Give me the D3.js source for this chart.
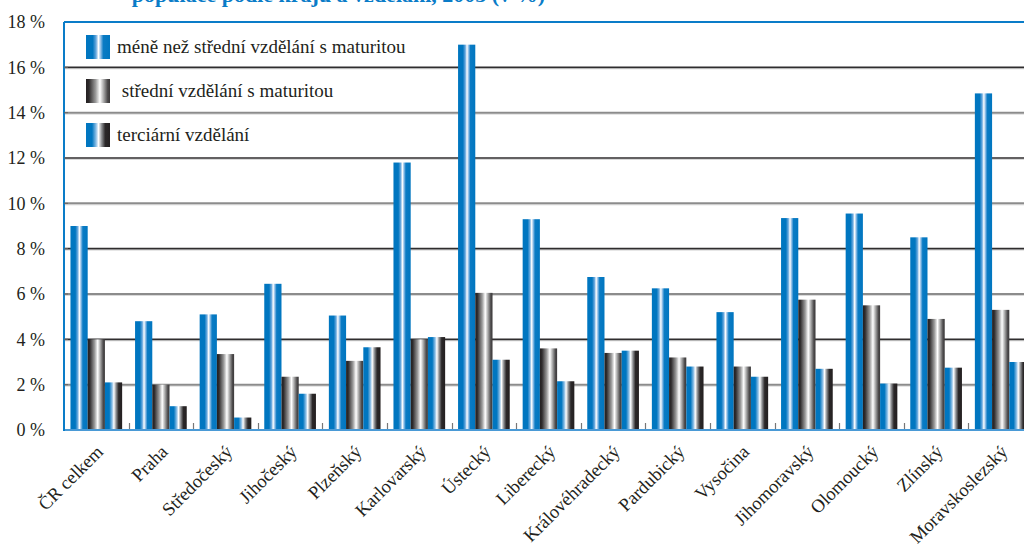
<!DOCTYPE html>
<html><head><meta charset="utf-8">
<script src="https://cdn.jsdelivr.net/npm/d3@7"></script>
<style>
html,body{margin:0;padding:0;background:#fff;}
svg{display:block;}
</style></head>
<body>
<svg id="chart" width="1024" height="546"></svg>
<script>
const categories = ["ČR celkem","Praha","Středočeský","Jihočeský","Plzeňský","Karlovarský","Ústecký","Liberecký","Královéhradecký","Pardubický","Vysočina","Jihomoravský","Olomoucký","Zlínský","Moravskoslezský"];
const seriesNames = ["méně než střední vzdělání s maturitou"," střední vzdělání s maturitou","terciární vzdělání"];
const lowerEdu = [9.0,4.8,5.1,6.45,5.05,11.8,17.0,9.3,6.75,6.25,5.2,9.35,9.55,8.5,14.85];
const secondaryEdu = [4.0,2.0,3.35,2.35,3.05,4.0,6.05,3.6,3.4,3.2,2.8,5.75,5.5,4.9,5.3];
const tertiaryEdu = [2.1,1.05,0.55,1.6,3.65,4.1,3.1,2.15,3.5,2.8,2.35,2.7,2.05,2.75,3.0];
const yTicks = [0,2,4,6,8,10,12,14,16,18];
const titleText = "populace podle krajů a vzdělání, 2005 (v %)";

(function(){
const FONT = "'Liberation Serif', 'Times New Roman', 'DejaVu Serif', serif";
const svg = d3.select("#chart").attr("font-family", FONT);
const pLeft = 64, pRight = 1033, pTop = 22, pBottom = 430;

const defs = svg.append("defs");
function grad(id, stops){
  const g = defs.append("linearGradient").attr("id", id).attr("x1","0").attr("x2","1").attr("y1","0").attr("y2","0");
  stops.forEach(s => g.append("stop").attr("offset", s[0]).attr("stop-color", s[1]));
}
grad("gBlue", [[0,"#0076c0"],[0.28,"#0076c0"],[0.42,"#6aa9de"],[0.52,"#ffffff"],[0.6,"#9cc5ea"],[0.72,"#0a7bc4"],[1,"#0076c0"]]);
grad("gGrey", [[0,"#231f20"],[0.12,"#2e2b2c"],[0.4,"#9b9b9b"],[0.58,"#ffffff"],[0.75,"#a0a0a0"],[0.9,"#4d4b4c"],[1,"#3a3839"]]);
grad("gTer",  [[0,"#0076c0"],[0.25,"#0076c0"],[0.42,"#8ebfe6"],[0.52,"#ffffff"],[0.65,"#8e9093"],[0.8,"#2b2829"],[1,"#231f20"]]);
const fills = ["url(#gBlue)","url(#gGrey)","url(#gTer)"];

const x = d3.scaleBand().domain(categories).range([pLeft, pRight]).paddingInner(0.2).paddingOuter(0.1);
const xs = d3.scaleBand().domain([0,1,2]).range([0, x.bandwidth()]);
const y = d3.scaleLinear().domain([0,18]).range([pBottom, pTop]);

// title (cut off at top in the reference)
svg.append("text").attr("x", 545).attr("y", 1.5).attr("text-anchor","end")
  .attr("font-family", FONT).attr("font-size", 22).attr("font-weight","bold")
  .attr("fill","#0a7cc8").text(titleText);

// gridlines
const grid = svg.append("g");
yTicks.filter(t => t>0 && t<18).forEach(t => {
  const dark = (t % 4 === 0);
  grid.append("line").attr("x1", pLeft).attr("x2", 1024).attr("y1", y(t)+1.5).attr("y2", y(t)+1.5)
    .attr("stroke", "#d9d9d9").attr("stroke-width", 1);
  grid.append("line").attr("x1", pLeft).attr("x2", 1024).attr("y1", y(t)).attr("y2", y(t))
    .attr("stroke", dark ? "#2f2d2e" : "#8c8c8c").attr("stroke-width", dark ? 1.6 : 2);
});

// bars
const data = [lowerEdu, secondaryEdu, tertiaryEdu];
const gBars = svg.append("g");
categories.forEach((c, i) => {
  data.forEach((arr, s) => {
    gBars.append("rect")
      .attr("x", x(c) + xs(s)).attr("width", xs.bandwidth())
      .attr("y", y(arr[i])).attr("height", y(0) - y(arr[i]))
      .attr("fill", fills[s]);
  });
});

// category separator ticks
categories.forEach((c, i) => {
  if (i === 0) return;
  const bx = x(c) - x.step()*x.paddingInner()/2 ;
  svg.append("line").attr("x1", Math.round(bx)+0.5).attr("x2", Math.round(bx)+0.5)
    .attr("y1", pBottom).attr("y2", pBottom-7).attr("stroke","#777").attr("stroke-width",1.2);
});

// frame
svg.append("line").attr("x1", pLeft).attr("x2", 1024).attr("y1", pTop).attr("y2", pTop).attr("stroke","#0a7cc8").attr("stroke-width",2);
svg.append("line").attr("x1", pLeft).attr("x2", 1024).attr("y1", pBottom).attr("y2", pBottom).attr("stroke","#4a9ad6").attr("stroke-width",2);
svg.append("line").attr("x1", pLeft).attr("x2", pLeft).attr("y1", pTop).attr("y2", pBottom+1).attr("stroke","#0a7cc8").attr("stroke-width",2);

// y axis
const yAxis = d3.axisLeft(y).tickValues(yTicks).tickSize(0).tickPadding(0).tickFormat(d => d + " %");
const ya = svg.append("g").attr("transform", `translate(${pLeft-19},0)`).call(yAxis)
  .attr("font-family", FONT).attr("font-size", 18);
ya.select(".domain").remove();
ya.selectAll("text").attr("fill","#231f20");
yTicks.filter(t => t>0 && t<18).forEach(t => {
  svg.append("line").attr("x1", pLeft).attr("x2", pLeft+4).attr("y1", y(t)).attr("y2", y(t)).attr("stroke","#666");
});

// x labels
const xa = svg.append("g");
categories.forEach(c => {
  const cx = x(c) + x.bandwidth()/2 + 8;
  xa.append("text").attr("transform", `translate(${cx},${453}) rotate(-45)`)
    .attr("text-anchor","end").attr("font-family", FONT).attr("font-size", 18.5).attr("fill","#231f20").text(c);
});

// legend
const lg = svg.append("g");
seriesNames.forEach((n, i) => {
  const ly = 35 + i*44;
  lg.append("rect").attr("x", 86).attr("y", ly).attr("width", 24).attr("height", 24).attr("fill", fills[i]);
  lg.append("text").attr("x", 117).attr("y", ly + 18).attr("font-family", FONT).attr("font-size", 19)
    .attr("fill","#231f20").style("white-space","pre").text(n);
});
})();
</script>
</body></html>
